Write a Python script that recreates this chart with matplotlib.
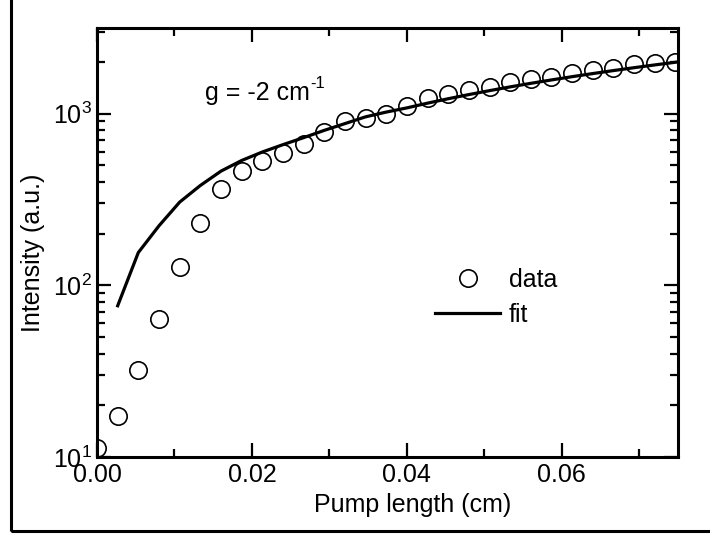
import matplotlib
matplotlib.use("Agg")
import matplotlib.pyplot as plt
from matplotlib.lines import Line2D
from matplotlib.ticker import LogLocator, MultipleLocator, NullFormatter, FormatStrFormatter

plt.rcParams['font.family'] = ['Liberation Sans', 'DejaVu Sans']
plt.rcParams['mathtext.fontset'] = 'custom'
plt.rcParams['mathtext.rm'] = 'Liberation Sans'
plt.rcParams['mathtext.it'] = 'Liberation Sans:italic'

# measured points (pump length in cm, intensity in a.u.)
data_x = [0.0, 0.00267, 0.00533, 0.008, 0.01067, 0.01333, 0.016, 0.01867,
          0.02133, 0.024, 0.02667, 0.02933, 0.032, 0.03467, 0.03733, 0.04,
          0.04267, 0.04533, 0.048, 0.05067, 0.05333, 0.056, 0.05867, 0.06133,
          0.064, 0.06667, 0.06933, 0.072, 0.07467]
data_y = [11.3, 17.4, 32.3, 64, 128, 231, 364, 460,
          531, 589, 668, 782, 906, 948, 1000, 1109,
          1225, 1303, 1368, 1432, 1532, 1587, 1640, 1714,
          1791, 1849, 1935, 1981, 2006]

# fit curve (g = -2 cm^-1)
fit_x = [0.00267, 0.00533, 0.008, 0.01067, 0.01333, 0.016, 0.01867,
         0.02133, 0.024, 0.02667, 0.02933, 0.032, 0.03467, 0.03733, 0.04,
         0.04267, 0.04533, 0.048, 0.05067, 0.05333, 0.056, 0.05867, 0.06133,
         0.064, 0.06667, 0.06933, 0.072, 0.07467, 0.075]
fit_y = [76, 155, 222, 305, 381, 462, 533,
         597, 659, 724, 798, 874, 957, 1020, 1079,
         1150, 1220, 1290, 1360, 1430, 1500, 1570, 1640,
         1710, 1780, 1850, 1920, 1990, 2000]

fs = 18

fig = plt.figure(figsize=(7.1, 5.35), dpi=100)
ax = fig.add_axes([97/710, 1-457/535, (678-97)/710, (457-28)/535])

ax.plot(fit_x, fit_y, color='black', lw=2.3, zorder=2)
ax.plot(data_x, data_y, ls='none', marker='o', ms=12.5, mfc='none',
        mec='black', mew=1.2, zorder=3)

ax.set_yscale('log')
ax.set_xlim(0, 0.075)
ax.set_ylim(10, 3150)

ax.xaxis.set_major_locator(MultipleLocator(0.02))
ax.xaxis.set_minor_locator(MultipleLocator(0.01))
ax.xaxis.set_major_formatter(FormatStrFormatter('%.2f'))
ax.yaxis.set_major_locator(LogLocator(base=10))
ax.yaxis.set_minor_locator(LogLocator(base=10, subs=range(2, 10)))
ax.yaxis.set_minor_formatter(NullFormatter())

ax.tick_params(which='both', direction='in', top=True, right=True,
               width=1.6, labelsize=fs, colors='black')
ax.tick_params(which='major', length=10, pad=4)
ax.tick_params(which='minor', length=6)
for s in ax.spines.values():
    s.set_linewidth(2.2)

ax.set_xlabel('Pump length (cm)', fontsize=fs)
ax.xaxis.set_label_coords(0.544, -0.085)
ax.xaxis.label.set_va('top')
ax.set_ylabel('Intensity (a.u.)', fontsize=fs)
ax.yaxis.label.set_va('center')
ax.yaxis.set_label_coords(-0.110, 0.475)

t = ax.text(0.186, 0.832, 'g = -2 cm', transform=ax.transAxes,
            fontsize=fs, va='baseline', ha='left')
ax.annotate('-1', xy=(1.0, 1.0), xycoords=t, xytext=(0.5, 4),
            textcoords='offset points', fontsize=12, va='top', ha='left')

handles = [Line2D([], [], ls='none', marker='o', ms=12.5, mfc='none', mec='black', mew=1.2),
           Line2D([], [], color='black', lw=2.3)]
ax.legend(handles, ['data', 'fit'], loc='upper left', bbox_to_anchor=(0.582, 0.44),
          frameon=False, fontsize=fs, handlelength=2.6, handletextpad=0.35,
          labelspacing=0.42, borderpad=0, borderaxespad=0)

# outer frame of the original figure (left and bottom edges visible)
fig.add_artist(plt.Rectangle((11/710, 1-531/535), 1.0, 1.0, transform=fig.transFigure,
                             fill=False, ec='black', lw=2.2))

fig.savefig('out.png', dpi=100)
